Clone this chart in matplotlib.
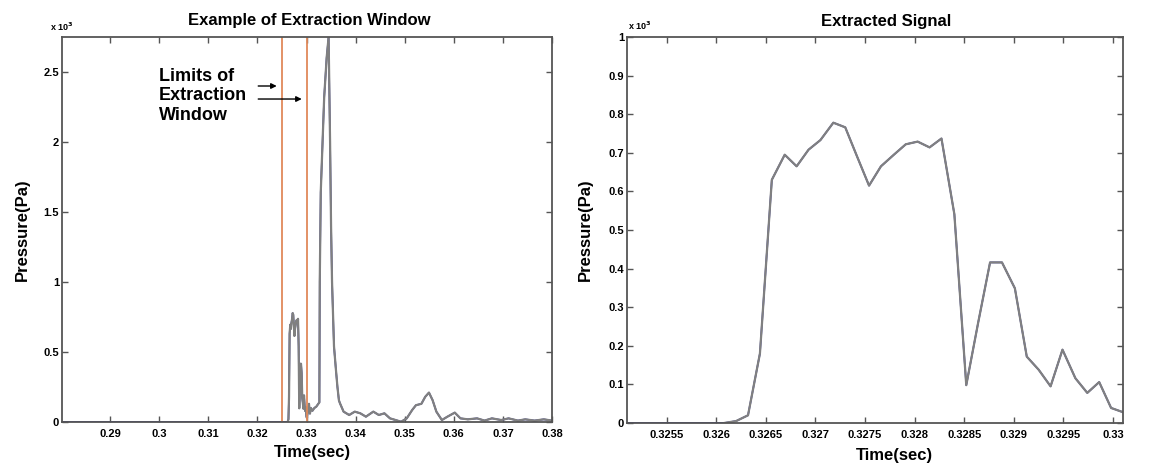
import matplotlib
matplotlib.use("Agg")
import matplotlib.pyplot as plt
from matplotlib.ticker import FuncFormatter

plt.rcParams['font.family'] = ['Liberation Sans', 'DejaVu Sans']
plt.rcParams['font.weight'] = 'bold'
plt.rcParams['axes.labelweight'] = 'bold'

# extracted window (x10^3 Pa), sampled at ~8.2 kHz
win_time = [0.32510, 0.32522, 0.32534, 0.32547, 0.32559, 0.32571, 0.32583,
            0.32595, 0.32608, 0.32620, 0.32632, 0.32644, 0.32656, 0.32669,
            0.32681, 0.32693, 0.32705, 0.32718, 0.32730, 0.32742, 0.32754,
            0.32766, 0.32779, 0.32791, 0.32803, 0.32815, 0.32827, 0.32840,
            0.32852, 0.32864, 0.32876, 0.32888, 0.32901, 0.32913, 0.32925,
            0.32937, 0.32949, 0.32962, 0.32974, 0.32986, 0.32998, 0.33010]
win_pressure = [0, 0, 0, 0, 0, 0, 0, 0, 0, 0.005, 0.02, 0.18, 0.63, 0.695,
                0.665, 0.708, 0.733, 0.778, 0.766, 0.69, 0.615, 0.665, 0.695,
                0.722, 0.729, 0.714, 0.737, 0.541, 0.098, 0.26, 0.416, 0.416,
                0.349, 0.172, 0.138, 0.095, 0.19, 0.116, 0.078, 0.106, 0.039,
                0.028]

# rest of the recording after the window
post_time = [0.3303, 0.3305, 0.3307, 0.3309, 0.3312, 0.3316, 0.3320, 0.3324,
             0.33262, 0.3327, 0.3329, 0.3336, 0.3341, 0.3345, 0.3348, 0.3350,
             0.3352, 0.3356, 0.3360, 0.3363, 0.3366, 0.3368, 0.33755, 0.33869,
             0.33983, 0.34096, 0.3421, 0.34361, 0.34473, 0.34587, 0.347,
             0.34814, 0.34927, 0.35041, 0.35153, 0.35229, 0.3534, 0.35418,
             0.35494, 0.35567, 0.35645, 0.35757, 0.3587, 0.3602, 0.36135,
             0.36286, 0.36474, 0.36625, 0.36776, 0.36966, 0.37116, 0.37306,
             0.37455, 0.37645, 0.37833, 0.3800]
post_pressure = [0.09, 0.13, 0.06, 0.1, 0.08, 0.1, 0.11, 0.13, 0.14, 1.0, 1.64,
                 2.32, 2.6, 2.75, 2.0, 1.4, 1.0, 0.54, 0.37, 0.25, 0.155, 0.135,
                 0.074, 0.05, 0.074, 0.062, 0.038, 0.074, 0.05, 0.062, 0.026,
                 0.014, 0.002, 0.026, 0.086, 0.12, 0.13, 0.18, 0.21, 0.157,
                 0.074, 0.014, 0.038, 0.067, 0.026, 0.019, 0.026, 0.01, 0.026,
                 0.014, 0.026, 0.01, 0.019, 0.01, 0.019, 0.01]

window_limits = [0.3251, 0.3300]
left_xticks = [0.29, 0.30, 0.31, 0.32, 0.33, 0.34, 0.35, 0.36, 0.37, 0.38]
left_yticks = [0, 0.5, 1, 1.5, 2, 2.5]
right_xticks = [0.3255, 0.326, 0.3265, 0.327, 0.3275, 0.328, 0.3285, 0.329,
                0.3295, 0.33]
right_yticks = [0, 0.1, 0.2, 0.3, 0.4, 0.5, 0.6, 0.7, 0.8, 0.9, 1]

full_time = [0.28] + win_time + post_time
full_pressure = [0] + win_pressure + post_pressure

GRAY = '#808080'
BLUE = '#1c1ca8'
SPINE = '#555555'
fmt = FuncFormatter(lambda v, p: '%g' % round(v, 6))

fig = plt.figure(figsize=(11.51, 4.72), dpi=100)
ax1 = fig.add_axes([62 / 1151, 1 - 422 / 472, 490 / 1151, 385 / 472])
ax2 = fig.add_axes([627 / 1151, 1 - 423 / 472, 496 / 1151, 386 / 472])


def style(ax):
    for s in ax.spines.values():
        s.set_color(SPINE)
        s.set_linewidth(1.3)
    ax.tick_params(direction='in', top=True, right=True, length=4, width=1,
                   color=SPINE, labelsize=8)
    ax.tick_params(axis='x', pad=5)
    ax.tick_params(axis='y', pad=2)
    ax.xaxis.set_major_formatter(fmt)
    ax.yaxis.set_major_formatter(fmt)


# left panel
ax1.plot(full_time, full_pressure, color=BLUE, lw=1.2)
ax1.plot(full_time[10:], full_pressure[10:], color=GRAY, lw=1.6)
for x in window_limits:
    ax1.axvline(x, color='#e0895a', lw=1.3)
ax1.set_xlim(0.2802, 0.38)
ax1.set_ylim(0, 2.75)
ax1.set_xticks(left_xticks)
ax1.set_yticks(left_yticks)
style(ax1)
ax1.text(0.504, 1.031, 'Example of Extraction Window', transform=ax1.transAxes,
         ha='center', va='baseline', fontsize=12)
ax1.set_xlabel('Time(sec)', fontsize=12)
ax1.xaxis.set_label_coords(0.512, -0.06)
ax1.set_ylabel('Pressure(Pa)', fontsize=12)
ax1.yaxis.set_label_coords(-0.065, 0.5)
ax1.text(-0.025, 1.01, 'x 10$^3$', transform=ax1.transAxes, fontsize=6.5,
         ha='left', va='bottom')
ax1.text(0.3000, 2.53, 'Limits of\nExtraction\nWindow', fontsize=13,
         ha='left', va='top', linespacing=1.2)
ax1.annotate('', xy=(0.3245, 2.4), xytext=(0.3196, 2.4),
             arrowprops=dict(arrowstyle='-|>', color='black', lw=1,
                             mutation_scale=8))
ax1.annotate('', xy=(0.3296, 2.307), xytext=(0.3196, 2.307),
             arrowprops=dict(arrowstyle='-|>', color='black', lw=1,
                             mutation_scale=8))

# right panel
ax2.plot(win_time, win_pressure, color=BLUE, lw=1.2)
ax2.plot(win_time[8:], win_pressure[8:], color=GRAY, lw=1.6)
ax2.set_xlim(win_time[0], win_time[-1])
ax2.set_ylim(0, 1)
ax2.set_xticks(right_xticks)
ax2.set_yticks(right_yticks)
style(ax2)
ax2.text(0.523, 1.028, 'Extracted Signal', transform=ax2.transAxes,
         ha='center', va='baseline', fontsize=12)
ax2.set_xlabel('Time(sec)', fontsize=12)
ax2.xaxis.set_label_coords(0.54, -0.065)
ax2.set_ylabel('Pressure(Pa)', fontsize=12)
ax2.yaxis.set_label_coords(-0.069, 0.5)
ax2.text(0.002, 1.012, 'x 10$^3$', transform=ax2.transAxes, fontsize=6.5,
         ha='left', va='bottom')

fig.savefig('out.png', dpi=100)
